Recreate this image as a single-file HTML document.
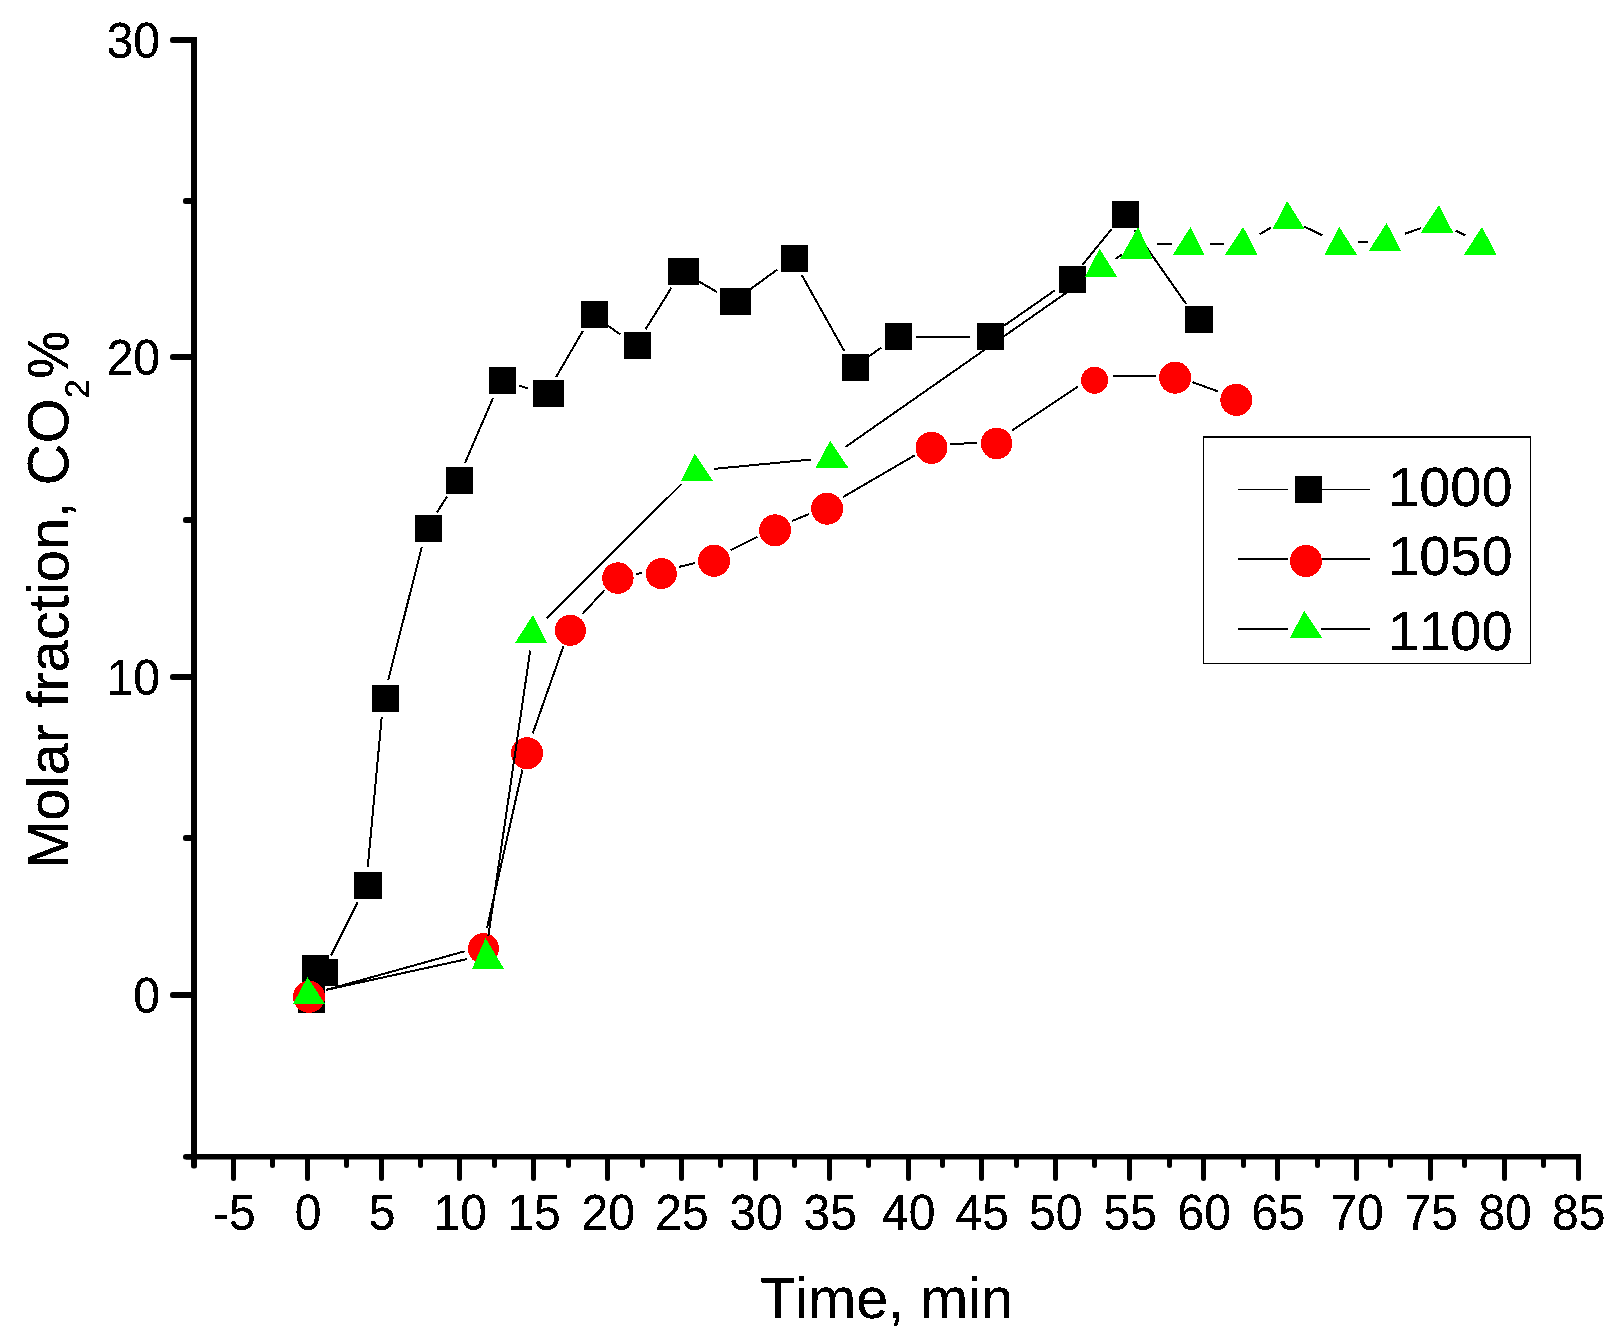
<!DOCTYPE html>
<html lang="en">
<head>
<meta charset="utf-8">
<title>Molar fraction CO2 vs Time</title>
<style>
html,body{margin:0;padding:0;background:#fff;}
body{width:1622px;height:1341px;overflow:hidden;position:relative;}
svg{display:block;position:absolute;left:0;top:0;}
text{filter:url(#bin);font-family:"Liberation Sans",Arial,Helvetica,sans-serif;fill:#000;font-kerning:none;}
.tick{font-size:48px;}
.ttl{font-size:58px;}
.leg{font-size:56px;}
</style>
</head>
<body>
<svg width="1622" height="1341" viewBox="0 0 1622 1341">
<rect x="0" y="0" width="1622" height="1341" fill="#fff"/>
<defs><filter id="bin" x="-5%" y="-5%" width="110%" height="110%" color-interpolation-filters="sRGB"><feComponentTransfer><feFuncA type="discrete" tableValues="0 1 1"/></feComponentTransfer></filter></defs>

<g fill="#000" shape-rendering="crispEdges">
<rect x="191" y="37" width="6" height="1128"/>
</g>
<rect x="186" y="1154" width="1395" height="5.5" fill="#000"/>
<g fill="#000">
<rect x="191" y="1160" width="6" height="8.5" rx="2.5"/>
<rect x="183" y="1154" width="10" height="5.5" rx="2.5"/>
<rect x="170" y="37" width="24" height="6" rx="2.5"/>
<rect x="170" y="354" width="24" height="6" rx="2.5"/>
<rect x="170" y="674" width="24" height="6" rx="2.5"/>
<rect x="170" y="992" width="24" height="6" rx="2.5"/>
<rect x="183" y="198" width="10" height="6" rx="2.5"/>
<rect x="183" y="517" width="10" height="6" rx="2.5"/>
<rect x="183" y="835" width="10" height="6" rx="2.5"/>
<rect x="231" y="1156" width="5" height="25" rx="2.5"/>
<rect x="305" y="1156" width="5" height="25" rx="2.5"/>
<rect x="379" y="1156" width="5" height="25" rx="2.5"/>
<rect x="457" y="1156" width="5" height="25" rx="2.5"/>
<rect x="531" y="1156" width="5" height="25" rx="2.5"/>
<rect x="605" y="1156" width="5" height="25" rx="2.5"/>
<rect x="679" y="1156" width="5" height="25" rx="2.5"/>
<rect x="753" y="1156" width="5" height="25" rx="2.5"/>
<rect x="827" y="1156" width="5" height="25" rx="2.5"/>
<rect x="906" y="1156" width="5" height="25" rx="2.5"/>
<rect x="979" y="1156" width="5" height="25" rx="2.5"/>
<rect x="1053" y="1156" width="5" height="25" rx="2.5"/>
<rect x="1127" y="1156" width="5" height="25" rx="2.5"/>
<rect x="1201" y="1156" width="5" height="25" rx="2.5"/>
<rect x="1275" y="1156" width="5" height="25" rx="2.5"/>
<rect x="1354" y="1156" width="5" height="25" rx="2.5"/>
<rect x="1428" y="1156" width="5" height="25" rx="2.5"/>
<rect x="1502" y="1156" width="5" height="25" rx="2.5"/>
<rect x="1576" y="1156" width="5" height="25" rx="2.5"/>
<rect x="270" y="1156" width="5" height="12" rx="2.5"/>
<rect x="344" y="1156" width="5" height="12" rx="2.5"/>
<rect x="418" y="1156" width="5" height="12" rx="2.5"/>
<rect x="492" y="1156" width="5" height="12" rx="2.5"/>
<rect x="566" y="1156" width="5" height="12" rx="2.5"/>
<rect x="640" y="1156" width="5" height="12" rx="2.5"/>
<rect x="718" y="1156" width="5" height="12" rx="2.5"/>
<rect x="792" y="1156" width="5" height="12" rx="2.5"/>
<rect x="866" y="1156" width="5" height="12" rx="2.5"/>
<rect x="940" y="1156" width="5" height="12" rx="2.5"/>
<rect x="1014" y="1156" width="5" height="12" rx="2.5"/>
<rect x="1092" y="1156" width="5" height="12" rx="2.5"/>
<rect x="1167" y="1156" width="5" height="12" rx="2.5"/>
<rect x="1241" y="1156" width="5" height="12" rx="2.5"/>
<rect x="1315" y="1156" width="5" height="12" rx="2.5"/>
<rect x="1388" y="1156" width="5" height="12" rx="2.5"/>
<rect x="1462" y="1156" width="5" height="12" rx="2.5"/>
<rect x="1541" y="1156" width="5" height="12" rx="2.5"/>
</g>
<g class="tick" text-anchor="middle">
<text transform="translate(234.3,1230) scale(1,1.025)">-5</text>
<text transform="translate(308.2,1230) scale(1,1.025)">0</text>
<text transform="translate(382.0,1230) scale(1,1.025)">5</text>
<text transform="translate(460.2,1230) scale(1,1.025)">10</text>
<text transform="translate(534.0,1230) scale(1,1.025)">15</text>
<text transform="translate(608.3,1230) scale(1,1.025)">20</text>
<text transform="translate(682.0,1230) scale(1,1.025)">25</text>
<text transform="translate(756.2,1230) scale(1,1.025)">30</text>
<text transform="translate(830.2,1230) scale(1,1.025)">35</text>
<text transform="translate(908.7,1230) scale(1,1.025)">40</text>
<text transform="translate(982.3,1230) scale(1,1.025)">45</text>
<text transform="translate(1055.8,1230) scale(1,1.025)">50</text>
<text transform="translate(1130.3,1230) scale(1,1.025)">55</text>
<text transform="translate(1204.3,1230) scale(1,1.025)">60</text>
<text transform="translate(1278.2,1230) scale(1,1.025)">65</text>
<text transform="translate(1356.9,1230) scale(1,1.025)">70</text>
<text transform="translate(1431.3,1230) scale(1,1.025)">75</text>
<text transform="translate(1505.1,1230) scale(1,1.025)">80</text>
<text transform="translate(1578.8,1230) scale(1,1.025)">85</text>
</g>
<g class="tick" text-anchor="end">
<text transform="translate(160,57.7) scale(1,1.035)">30</text>
<text transform="translate(160,374.9) scale(1,1.035)">20</text>
<text transform="translate(160,694.5) scale(1,1.035)">10</text>
<text transform="translate(160,1013.0) scale(1,1.035)">0</text>
</g>
<text class="ttl" x="886.6" y="1317.6" text-anchor="middle" style="font-size:57.6px">Time, min</text>
<g transform="translate(68.3,869) rotate(-90)">
<text class="ttl" x="0" y="0">Molar fraction, CO</text>
<text x="470.6" y="20.6" style="font-size:35px">2</text>
<text class="ttl" transform="translate(490.5,0) scale(0.92,1)">%</text>
</g>
<g stroke="#000" stroke-linecap="butt" shape-rendering="crispEdges">
<line x1="331.0" y1="955.5" x2="357.5" y2="902.5" stroke-width="2"/>
<line x1="367.8" y1="866.6" x2="381.7" y2="717.4" stroke-width="2"/>
<line x1="388.2" y1="680.1" x2="421.8" y2="546.9" stroke-width="2"/>
<line x1="436.8" y1="512.5" x2="447.2" y2="496.5" stroke-width="2"/>
<line x1="465.0" y1="463.0" x2="493.0" y2="398.0" stroke-width="2"/>
<line x1="518.8" y1="385.7" x2="528.2" y2="388.3" stroke-width="2"/>
<line x1="556.1" y1="377.1" x2="582.9" y2="330.9" stroke-width="2"/>
<line x1="607.9" y1="325.6" x2="620.1" y2="334.4" stroke-width="2"/>
<line x1="645.5" y1="329.4" x2="671.5" y2="287.6" stroke-width="2"/>
<line x1="698.0" y1="281.0" x2="717.0" y2="292.0" stroke-width="2"/>
<line x1="748.9" y1="290.3" x2="777.1" y2="269.7" stroke-width="2"/>
<line x1="801.8" y1="275.1" x2="844.2" y2="350.9" stroke-width="2"/>
<line x1="868.9" y1="356.4" x2="881.1" y2="347.6" stroke-width="2"/>
<line x1="915.5" y1="336.5" x2="969.5" y2="336.5" stroke-width="2"/>
<line x1="1004.1" y1="325.7" x2="1054.9" y2="290.3" stroke-width="2"/>
<line x1="1082.5" y1="264.8" x2="1111.5" y2="229.2" stroke-width="2"/>
<line x1="1134.4" y1="230.1" x2="1186.1" y2="303.9" stroke-width="2"/>
</g>
<g fill="#000" shape-rendering="crispEdges">
<rect x="298" y="986" width="27" height="27"/>
<rect x="302" y="955" width="27" height="27"/>
<rect x="311" y="959" width="27" height="27"/>
<rect x="354" y="872" width="28" height="27"/>
<rect x="372" y="685" width="27" height="27"/>
<rect x="415" y="515" width="27" height="27"/>
<rect x="446" y="467" width="27" height="27"/>
<rect x="489" y="367" width="27" height="27"/>
<rect x="533" y="380" width="31" height="27"/>
<rect x="581" y="301" width="27" height="27"/>
<rect x="624" y="332" width="27" height="27"/>
<rect x="668" y="258" width="31" height="27"/>
<rect x="720" y="288" width="31" height="27"/>
<rect x="781" y="245" width="27" height="27"/>
<rect x="842" y="354" width="27" height="27"/>
<rect x="885" y="323" width="27" height="27"/>
<rect x="977" y="323" width="27" height="27"/>
<rect x="1059" y="266" width="27" height="27"/>
<rect x="1112" y="201" width="27" height="27"/>
<rect x="1185" y="306" width="28" height="27"/>
</g>
<g stroke="#000" shape-rendering="crispEdges">
<line x1="326.8" y1="989.7" x2="464.7" y2="951.3" stroke-width="2"/>
<line x1="487.1" y1="927.7" x2="522.4" y2="769.7" stroke-width="2"/>
<line x1="532.8" y1="733.3" x2="563.6" y2="645.7" stroke-width="2"/>
<line x1="582.7" y1="613.8" x2="604.6" y2="589.9" stroke-width="2"/>
<line x1="636.3" y1="573.8" x2="641.9" y2="573.2" stroke-width="2"/>
<line x1="679.3" y1="566.8" x2="695.0" y2="563.1" stroke-width="2"/>
<line x1="730.5" y1="550.3" x2="757.6" y2="536.8" stroke-width="2"/>
<line x1="792.1" y1="521.0" x2="809.1" y2="514.0" stroke-width="2"/>
<line x1="843.0" y1="497.1" x2="914.6" y2="455.4" stroke-width="2"/>
<line x1="950.0" y1="444.5" x2="977.1" y2="442.6" stroke-width="2"/>
<line x1="1011.9" y1="430.7" x2="1078.3" y2="386.4" stroke-width="2"/>
<line x1="1113.1" y1="375.8" x2="1155.7" y2="375.7" stroke-width="2"/>
<line x1="1192.6" y1="382.2" x2="1217.9" y2="391.4" stroke-width="2"/>
</g>
<g fill="#f00" shape-rendering="crispEdges">
<circle cx="309.0" cy="996.8" r="16.00"/>
<circle cx="483.5" cy="948.7" r="15.50"/>
<circle cx="527.0" cy="753.2" r="16.00"/>
<circle cx="570.4" cy="630.3" r="15.50"/>
<circle cx="617.9" cy="578.1" r="15.75"/>
<circle cx="661.3" cy="573.6" r="15.50"/>
<circle cx="714.0" cy="560.8" r="16.00"/>
<circle cx="775.1" cy="530.3" r="16.00"/>
<circle cx="827.1" cy="508.7" r="16.00"/>
<circle cx="931.5" cy="447.8" r="16.00"/>
<circle cx="996.6" cy="443.5" r="15.75"/>
<circle cx="1094.6" cy="380.3" r="13.50"/>
<circle cx="1175.2" cy="377.7" r="16.00"/>
<circle cx="1236.3" cy="399.9" r="16.00"/>
</g>
<g stroke="#000" shape-rendering="crispEdges">
<line x1="326.1" y1="989.9" x2="466.9" y2="959.1" stroke-width="2"/>
<line x1="488.3" y1="936.2" x2="530.2" y2="650.6" stroke-width="2"/>
<line x1="546.5" y1="618.4" x2="681.4" y2="484.1" stroke-width="2"/>
<line x1="713.8" y1="468.9" x2="811.2" y2="459.5" stroke-width="2"/>
<line x1="845.7" y1="446.8" x2="1084.0" y2="280.4" stroke-width="2"/>
<line x1="1115.4" y1="259.0" x2="1122.3" y2="254.4" stroke-width="2"/>
<line x1="1157.1" y1="243.9" x2="1171.6" y2="243.9" stroke-width="2"/>
<line x1="1209.6" y1="243.9" x2="1224.2" y2="243.9" stroke-width="2"/>
<line x1="1259.6" y1="234.3" x2="1270.8" y2="227.6" stroke-width="2"/>
<line x1="1304.2" y1="226.5" x2="1322.2" y2="235.4" stroke-width="2"/>
<line x1="1358.1" y1="242.3" x2="1367.8" y2="241.6" stroke-width="2"/>
<line x1="1404.7" y1="233.8" x2="1421.0" y2="228.2" stroke-width="2"/>
<line x1="1455.9" y1="230.6" x2="1465.3" y2="235.3" stroke-width="2"/>
</g>
<g fill="#0f0" shape-rendering="crispEdges">
<polygon points="307.5,977.0 325.0,1004.0 293.0,1004.0"/>
<polygon points="485.5,938.0 504.0,969.0 472.0,969.0"/>
<polygon points="533.0,614.8 547.0,642.8 515.1,642.8"/>
<polygon points="694.9,453.7 713.1,480.9 680.8,480.9"/>
<polygon points="830.1,440.7 848.4,467.8 815.7,467.8"/>
<polygon points="1099.6,248.6 1117.1,276.8 1085.0,276.8"/>
<polygon points="1138.1,226.9 1152.4,258.5 1120.3,258.5"/>
<polygon points="1190.6,226.9 1204.4,254.8 1172.8,254.8"/>
<polygon points="1243.2,226.9 1257.3,254.8 1225.0,254.8"/>
<polygon points="1287.2,201.0 1304.4,228.7 1272.8,228.7"/>
<polygon points="1339.2,226.9 1357.1,254.8 1324.6,254.8"/>
<polygon points="1386.7,223.0 1401.0,250.9 1368.7,250.9"/>
<polygon points="1439.0,205.0 1453.1,232.6 1420.8,232.6"/>
<polygon points="1482.2,226.9 1496.2,254.8 1463.7,254.8"/>
</g>
<g shape-rendering="crispEdges">
<rect x="1203" y="436" width="328" height="228" fill="#fff"/>
<rect x="1203" y="436" width="328" height="2" fill="#000"/>
<rect x="1203" y="436" width="1" height="228" fill="#000"/>
<rect x="1530" y="436" width="1" height="228" fill="#000"/>
<rect x="1203" y="663" width="328" height="1" fill="#000"/>
<rect x="1238" y="489" width="50" height="1" fill="#000"/>
<rect x="1322" y="489" width="48" height="1" fill="#000"/>
<rect x="1295" y="476" width="27" height="27" fill="#000"/>
<rect x="1238" y="558" width="50" height="2" fill="#000"/>
<rect x="1321" y="558" width="49" height="2" fill="#000"/>
<circle cx="1305.9" cy="561" r="16" fill="#f00"/>
<rect x="1238" y="628" width="50" height="2" fill="#000"/>
<rect x="1321" y="628" width="49" height="2" fill="#000"/>
<polygon points="1304.3,610.9 1322.1,637.9 1289.9,637.9" fill="#0f0"/>
</g>
<g class="leg">
<text transform="translate(1388,506.3) scale(1,1.0)">1000</text>
<text transform="translate(1388,574.7) scale(1,1.0)">1050</text>
<text transform="translate(1388,650.3) scale(1,1.0)">1100</text>
</g>
</svg>
</body>
</html>
